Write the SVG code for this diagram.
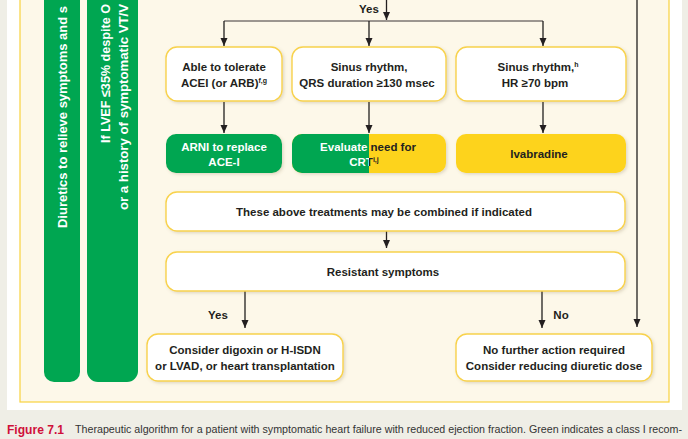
<svg xmlns="http://www.w3.org/2000/svg" width="688" height="439" viewBox="0 0 688 439">
<defs>
<style>
.t{font-family:"Liberation Sans",Arial,sans-serif;font-weight:bold;font-size:11.5px;fill:#231f20;text-anchor:middle}
.w{fill:#ffffff}
.box{fill:#ffffff;stroke:#f8d24c;stroke-width:1.4}
.gr{fill:#00a651}
.ye{fill:#fdd31c}
.ln{stroke:#231f20;stroke-width:1.3;fill:none}
.thin{stroke:#3a3536;stroke-width:1;fill:none}
.bar{font-family:"Liberation Sans",Arial,sans-serif;font-weight:bold;font-size:13.5px;fill:#ffffff}
.sup{font-size:7px}
</style>
<marker id="ah" markerUnits="userSpaceOnUse" markerWidth="8" markerHeight="8" viewBox="0 0 8 8" refX="8" refY="4" orient="auto">
<path d="M0,0.5 L8,4 L0,7.5 Z" fill="#231f20"/>
</marker>
<filter id="sh" x="-10%" y="-20%" width="120%" height="150%">
<feDropShadow dx="1.5" dy="1.5" stdDeviation="1.6" flood-color="#7a6a40" flood-opacity="0.22"/>
</filter>
<clipPath id="cl"><rect x="280" y="120" width="89" height="70"/></clipPath>
<clipPath id="cr"><rect x="369" y="120" width="90" height="70"/></clipPath>
</defs>

<rect x="0" y="0" width="688" height="439" fill="#efeee6"/>
<rect x="7" y="0" width="675" height="410" fill="#ffffff"/>
<rect x="20" y="-5" width="649" height="407" fill="#fdf8e9" stroke="#f9d23e" stroke-width="1.2"/>

<g id="bar-diuretics">
<rect class="gr" x="44" y="-20" width="36" height="402" rx="10"/>
<text class="bar" transform="translate(67,228) rotate(-90)" textLength="222" lengthAdjust="spacingAndGlyphs">Diuretics to relieve symptoms and s</text>
</g>
<g id="bar-icd">
<rect class="gr" x="87" y="-20" width="51" height="402" rx="11"/>
<text class="bar" transform="translate(110,143) rotate(-90)" textLength="139" lengthAdjust="spacingAndGlyphs">If LVEF ≤35% despite O</text>
<text class="bar" transform="translate(128,210) rotate(-90)" textLength="206" lengthAdjust="spacingAndGlyphs">or a history of symptomatic VT/V</text>
</g>

<g id="connectors">
<line class="ln" x1="386.5" y1="0" x2="386.5" y2="20" marker-end="url(#ah)"/>
<line class="thin" x1="224" y1="21" x2="543" y2="21"/>
<line class="ln" x1="224" y1="21" x2="224" y2="46" marker-end="url(#ah)"/>
<line class="ln" x1="369" y1="21" x2="369" y2="46" marker-end="url(#ah)"/>
<line class="ln" x1="543" y1="21" x2="543" y2="46" marker-end="url(#ah)"/>
<line class="ln" x1="224" y1="102" x2="224" y2="133" marker-end="url(#ah)"/>
<line class="ln" x1="369" y1="102" x2="369" y2="133" marker-end="url(#ah)"/>
<line class="ln" x1="543" y1="102" x2="543" y2="133" marker-end="url(#ah)"/>
<line class="ln" x1="386.5" y1="231" x2="386.5" y2="248" marker-end="url(#ah)"/>
<line class="ln" x1="245" y1="291" x2="245" y2="328" marker-end="url(#ah)"/>
<line class="ln" x1="542" y1="291" x2="542" y2="328" marker-end="url(#ah)"/>
<line class="ln" x1="637" y1="0" x2="637" y2="327" marker-end="url(#ah)"/>
<text class="t" x="369" y="13">Yes</text>
<text class="t" x="218" y="319">Yes</text>
<text class="t" x="561" y="319">No</text>
</g>

<g id="n-acei">
<rect class="box" x="166" y="47" width="116" height="54" rx="11" filter="url(#sh)"/>
<text class="t" x="224" y="71">Able to tolerate</text>
<text class="t" x="224" y="87">ACEI (or ARB)<tspan class="sup" dy="-4">f,g</tspan></text>
</g>
<g id="n-qrs">
<rect class="box" x="292" y="47" width="154" height="54" rx="11" filter="url(#sh)"/>
<text class="t" x="369" y="71">Sinus rhythm,</text>
<text class="t" x="367" y="87">QRS duration ≥130 msec</text>
</g>
<g id="n-hr">
<rect class="box" x="456" y="47" width="170" height="54" rx="11" filter="url(#sh)"/>
<text class="t" x="538" y="71">Sinus rhythm,<tspan class="sup" dy="-4">h</tspan></text>
<text class="t" x="535" y="87">HR ≥70 bpm</text>
</g>

<g id="n-arni">
<rect class="gr" x="166" y="134" width="116" height="39" rx="10" filter="url(#sh)"/>
<text class="t w" x="224" y="151">ARNI to replace</text>
<text class="t w" x="224" y="166">ACE-I</text>
</g>
<g id="n-crt">
<rect class="ye" x="292" y="134" width="154" height="39" rx="10" filter="url(#sh)"/>
<rect class="gr" x="292" y="134" width="154" height="39" rx="10" clip-path="url(#cl)"/>
<g clip-path="url(#cl)">
<text class="t w" x="368" y="151">Evaluate need for</text>
<text class="t w" x="364" y="166">CRT<tspan class="sup" dy="-4">i,j</tspan></text>
</g>
<g clip-path="url(#cr)">
<text class="t" x="368" y="151">Evaluate need for</text>
<text class="t" x="364" y="166">CRT<tspan class="sup" dy="-4">i,j</tspan></text>
</g>
</g>
<g id="n-ivabradine">
<rect class="ye" x="456" y="134" width="170" height="39" rx="10" filter="url(#sh)"/>
<text class="t" x="539" y="157.5">Ivabradine</text>
</g>

<g id="n-combined">
<rect class="box" x="166" y="192" width="459" height="39" rx="11" filter="url(#sh)"/>
<text class="t" x="384" y="215.5">These above treatments may be combined if indicated</text>
</g>
<g id="n-resistant">
<rect class="box" x="166" y="252" width="459" height="39" rx="11" filter="url(#sh)"/>
<text class="t" x="383" y="276">Resistant symptoms</text>
</g>

<g id="n-digoxin">
<rect class="box" x="147" y="334" width="196" height="47" rx="11" filter="url(#sh)"/>
<text class="t" x="245" y="353.5">Consider digoxin or H-ISDN</text>
<text class="t" x="245" y="370">or LVAD, or heart transplantation</text>
</g>
<g id="n-nofurther">
<rect class="box" x="456" y="334" width="196" height="47" rx="11" filter="url(#sh)"/>
<text class="t" x="554" y="353.5">No further action required</text>
<text class="t" x="554" y="370">Consider reducing diuretic dose</text>
</g>

<g id="caption">
<text x="7" y="433.5" font-family="Liberation Sans, Arial, sans-serif" font-weight="bold" font-size="12.5" fill="#d0103a" textLength="57" lengthAdjust="spacingAndGlyphs">Figure 7.1</text>
<text x="75" y="433" font-family="Liberation Sans, Arial, sans-serif" font-size="10.5" fill="#333333" textLength="607" lengthAdjust="spacingAndGlyphs">Therapeutic algorithm for a patient with symptomatic heart failure with reduced ejection fraction. Green indicates a class I recom-</text>
</g>
</svg>
